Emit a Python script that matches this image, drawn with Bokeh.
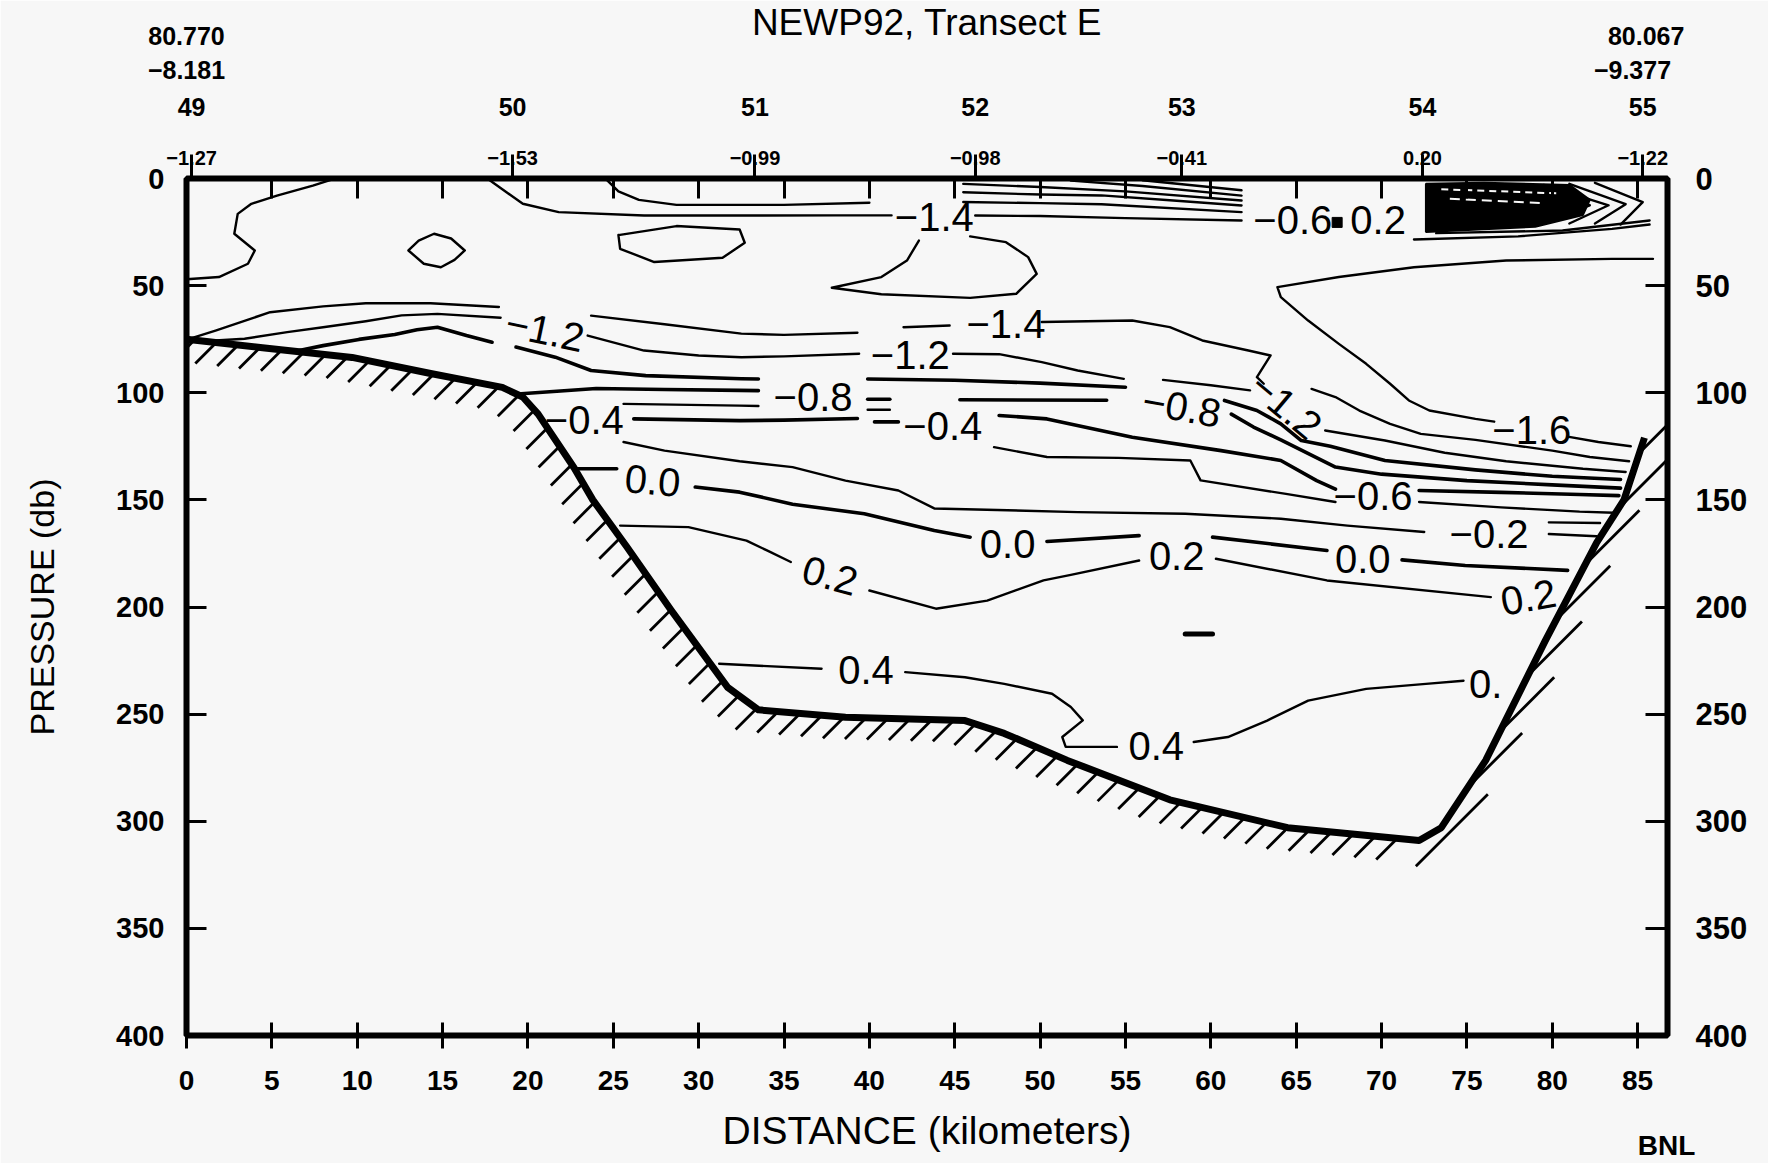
import numpy as np
from bokeh.plotting import figure
from bokeh.models import Range1d, LinearAxis, FixedTicker, ColumnDataSource
from bokeh.core.properties import value
from bokeh.embed import file_html
from bokeh.resources import INLINE

# ---------------- data ----------------
x_ticks = list(range(0, 90, 5))
y_ticks = list(range(0, 450, 50))

station_ids = ["49", "50", "51", "52", "53", "54", "55"]
station_km = [0.3, 19.1, 33.3, 46.2, 58.3, 72.4, 85.3]
station_vals = ["\u22121.27", "\u22121.53", "\u22120.99", "\u22120.98", "\u22120.41", "0.20", "\u22121.22"]

lat_km = [0.0, 85.5]
lat_text = ["80.770", "80.067"]
lon_km = [0.0, 84.7]
lon_text = ["\u22128.181", "\u22129.377"]
credit_km = [86.7]
credit_text = ["BNL"]

# bottom profile (km, db)
bathy_km = [0, 4.45, 9.7, 14.3, 18.5, 19.7, 20.6, 22.7, 23.8, 25.8, 28.4, 31.7, 33.5, 38.6,
            45.6, 47.9, 51.6, 57.6, 64.5, 72.2, 73.5, 76.1, 79.6, 82.6, 84.2, 85.4]
bathy_db = [75, 79, 83.5, 91, 97.5, 102, 110, 135, 150, 172, 201.6, 237.5, 248, 251.5,
            253, 259, 271.6, 290, 303, 309, 303, 271.6, 215.6, 170, 150, 121]

# contour segments, (km, db) pairs
c_top_left = [[(0, 47), (1.9, 46), (3.6, 39.8), (4.0, 33.6), (2.8, 25.8), (3.0, 16.5), (3.8, 11.8),
               (5.3, 8), (7.4, 3.3), (8.5, 0.5)]]
c_loop_small = [[(13.0, 33.6), (13.6, 29.0), (14.5, 25.8), (15.5, 28.0), (16.3, 33.6), (15.7, 38.0),
                 (14.9, 41.4), (13.9, 39.8), (13.0, 33.6)]]
c_top_m14 = [[(17.7, 0.5), (19.7, 11.8), (21.8, 15.7), (26.8, 17.3), (32.5, 17.3), (38, 17.2), (41.3, 17.2)],
             [(46.2, 17.3), (50, 17.5), (55, 18.5), (61.8, 19.6)]]
c_box = [[(24.6, 0.5), (25.3, 6), (26.5, 10), (28.7, 12.3), (35, 12.3), (40, 11.3)]]
c_loop_mid = [[(25.3, 26.4), (28.7, 22.2), (32.4, 23.8), (32.7, 30), (31.4, 37), (27.4, 39), (25.4, 32.8),
               (25.3, 26.4)]]
c_tongue = [[(42.9, 29), (42.2, 38.3), (40.7, 46), (37.8, 51), (40.7, 54), (45.9, 55.7), (48.6, 53.8),
             (49.8, 44.5), (49.3, 36.7), (48, 29.7), (45.9, 27)]]
c_bundle = [[(45.5, 2.5), (50, 4), (55, 6), (61.8, 10.3)],
            [(45.5, 6.4), (50, 7.5), (53.6, 7.9), (57.8, 10.3), (61.8, 12.6)],
            [(45.5, 11), (50, 11.5), (53.6, 12), (61.8, 15.7)],
            [(51.8, 1), (56, 3.5), (61.8, 8)],
            [(56, 0.8), (61.8, 5.5)]]
c_m16 = [[(85.9, 37.5), (83.5, 37.5), (77.3, 38.3), (71.9, 41.4), (67.5, 46), (63.9, 50.7), (64.1, 55.4),
          (65.7, 66.3), (67.5, 77.2), (69.1, 86.5), (70.5, 95.8), (71.6, 103.6), (72.8, 108.3), (75.5, 112.2),
          (76.6, 113.5)],
         [(80.9, 120.5), (82.7, 123), (84.6, 125)]]
c_m14 = [[(0.3, 74.5), (1.7, 71), (4.9, 62.4), (8, 59.7), (10.5, 58.2), (14.3, 58.2), (18.3, 60)],
         [(23.7, 64), (28, 68), (32.5, 72.4), (35, 73), (39.3, 72)],
         [(42, 69.4), (44.7, 68.6)],
         [(50.1, 67), (55.4, 66.3), (57.6, 69.4), (59.5, 75.6), (62.2, 80.3), (63.5, 82.6), (62.7, 92.7),
          (63.1, 95.8)],
         [(65.9, 98.2), (67.3, 102), (68.7, 108.3), (70.5, 114.5), (72.3, 119.2), (75.5, 122), (80, 127),
          (82.2, 130), (84.5, 132)]]
c_m12 = [[(1.7, 75.6), (3.4, 74.8), (5.9, 71.7), (8, 69.4), (10.5, 66.6), (12.6, 63.9), (14.7, 63.2), (18.4, 65)],
         [(23.5, 73.3), (26.8, 80.3), (30, 82.6), (32.5, 83.4), (35, 83), (39.4, 81.8)],
         [(44.9, 81.8), (47.6, 82), (50.1, 85.7), (52.2, 89.6), (54.9, 93.5)],
         [(57.2, 94), (60, 96.5), (62.3, 98.9)],
         [(66.7, 117.6), (70.2, 122.3), (73.7, 128), (77.3, 132), (81.8, 135.5), (84.3, 137)]]
c_m10 = [[(6.6, 80.3), (8, 78), (10.1, 75.1), (12.2, 72.8), (13.5, 70.6), (14.7, 69.4), (16.4, 73.3), (17.9, 76.4)],
         [(19.3, 78.7), (21.6, 83.4), (23.7, 89.6), (26.9, 92), (32.5, 93.5), (33.5, 93.6)],
         [(39.9, 93.6), (45, 94.2), (50, 95.5), (55, 97.4)],
         [(60.8, 103.6), (62.7, 108.3), (64.1, 114.5), (65.3, 122.3), (67, 125), (70.2, 131.6), (75.5, 136),
          (80, 139), (84, 140.5)]]
c_m08 = [[(19.6, 100.5), (24, 98), (28, 98.5), (32.4, 98.9), (33.5, 99)],
         [(39.9, 103), (41.2, 103)],
         [(45.3, 103.3), (53.9, 103.5)],
         [(61.2, 110), (62.5, 116), (64.1, 122), (67.3, 134.7), (70, 138), (75, 141), (80, 143), (84, 144.5)]]
c_m06 = [[(25.6, 105.2), (32.4, 106), (33.5, 106.2)],
         [(39.9, 107.9), (41.2, 107.9)]]
c_m04 = [[(26.2, 112.2), (32.4, 113), (35, 112.8), (39.3, 112)],
         [(40.3, 113.6), (41.7, 113.6)],
         [(47.6, 110.6), (50.4, 112.2), (55.4, 120.8), (60.6, 127), (64.1, 131.6), (66.2, 141), (67.3, 145)],
         [(72.2, 145.6), (77, 146.5), (81.6, 147.5), (83.9, 148)]]
c_m02 = [[(47.3, 125.4), (50.4, 130), (54.6, 130.4), (58.8, 131.6), (59.4, 140.9), (64.4, 147.2), (67.3, 151)],
         [(72.2, 151), (77, 153.5), (81.6, 155.5), (83.6, 156)]]
c_m02b = [[(25.6, 123), (28, 127), (32.4, 132), (35.5, 134.7), (38.6, 141), (41.7, 145.6), (43.8, 154),
           (52.2, 155.7), (58.5, 156.5), (64.1, 158.8), (68, 162), (72.5, 165)],
          [(79.8, 160.5), (82.8, 160.8)],
          [(79.8, 165.9), (82.6, 167)]]
c_p00 = [[(22.9, 135.5), (25.2, 135.5)],
         [(29.8, 144), (32.4, 146.4), (35.5, 152), (39.7, 156.5), (43.8, 164.3), (45.9, 167.4)],
         [(50.4, 169.4), (55.8, 166.7)],
         [(60.1, 167.4), (66.8, 173.6)],
         [(71.2, 178), (74.9, 180.6), (80.9, 182.9)]]
c_p02 = [[(25.4, 162), (29.4, 162.7), (32.8, 169), (34.0, 173.6), (35.4, 179)],
         [(40.0, 192.3), (43.9, 200.8), (46.9, 197), (50.2, 187.6), (51.8, 185), (55.8, 178.3)],
         [(60.3, 177.5), (66.8, 187.6), (76.4, 195.4)]]
c_p04 = [[(31.2, 226.5), (37.2, 228.8)],
         [(42.1, 230.4), (45.6, 232.8), (47.9, 235.9), (50.7, 240.5), (51.8, 246.7), (52.5, 252.9), (51.3, 260.7),
          (51.5, 265.3), (54.5, 265.3)],
         [(59.0, 263), (61.0, 260.7), (63.3, 253), (65.7, 243.7), (69.1, 238.2), (72.6, 235.9), (74.8, 234.4)]]
c_blob = [[(58.5, 212.6), (60.1, 212.6)]]

# dense near-surface patch at the east end
dense_km = [72.6, 76.0, 81.0, 82.2, 81.8, 79.0, 72.6]
dense_db = [2.5, 2.0, 3.0, 10.0, 17.0, 22.5, 25.0]
c_chevrons = [[(78.0, 3.5), (82.2, 12.5), (79.5, 20.5)],
              [(79.5, 3.0), (83.3, 12.5), (81.0, 21.0)],
              [(81.0, 2.5), (84.3, 12.0), (82.5, 21.0)],
              [(82.5, 2.0), (85.3, 11.0), (84.0, 21.5)]]
c_dense_edge = [[(71.9, 28.5), (78.0, 27.0), (83.5, 23.5), (85.7, 21.5)],
                [(73.2, 25.5), (80.6, 24.3), (85.7, 19.6)]]
square_km, square_db = [67.4], [20.5]

# contour labels
lab_text = ["\u22121.4", "\u22121.2", "\u22121.4", "\u22121.2", "\u22120.8", "\u22120.4", "\u22120.4", "\u22120.8",
            "\u22121.2", "\u22121.6", "\u22120.6", "\u22120.2", "0.0", "0.0", "0.2", "0.0", "0.2", "0.2",
            "0.4", "0.4", "0.", "\u22120.6", "0.2"]
lab_km = [43.8, 21.0, 48.0, 42.4, 36.7, 23.3, 44.3, 58.3, 64.4, 78.8, 69.5, 76.3, 27.3, 48.1, 58.0, 68.9,
          37.7, 78.6, 39.8, 56.8, 76.1, 64.8, 69.8]
lab_db = [18, 70.9, 67.8, 82.6, 102, 112.9, 115.3, 106.7, 106, 117.6, 148, 165.9, 141, 170.5, 176, 177.5,
          185.3, 195.4, 229.6, 264.7, 236, 19.6, 19.6]
lab_angle = [0, -12, 0, 0, 0, 0, 0, -10, -40, 0, 0, 0, -5, 0, 0, 0, -15, 10, 0, 0, 0, 0, 0]

# ---------------- geometry ----------------
W, H = 1768, 1163
ML, MR, MT, MB = 186, 101, 178, 128
XMAX = 86.75
SX = (W - ML - MR) / XMAX
SY = (H - MT - MB) / 400.0
BG = "#f7f7f7"
FONT = "Liberation Sans"

p = figure(width=W, height=H, x_range=Range1d(0, XMAX), y_range=Range1d(400, 0),
           output_backend="svg", toolbar_location=None, x_axis_location=None, y_axis_location=None,
           min_border_left=ML, min_border_right=MR, min_border_top=MT, min_border_bottom=MB,
           background_fill_color=BG, border_fill_color=BG)
p.grid.visible = False
p.outline_line_color = "black"
p.outline_line_width = 6


def style_axis(ax, size, tick_in, tick_out, standoff):
    ax.axis_line_color = None
    ax.major_tick_line_color = "black"
    ax.major_tick_line_width = 3
    ax.major_tick_in = tick_in
    ax.major_tick_out = tick_out
    ax.minor_tick_line_color = None
    ax.minor_tick_in = 0
    ax.minor_tick_out = 0
    ax.major_label_text_font = FONT
    ax.major_label_text_font_size = size
    ax.major_label_text_font_style = "bold"
    ax.major_label_text_color = "black"
    ax.major_label_standoff = standoff


def text_row(ticks, texts, size, standoff, side="above"):
    ax = LinearAxis(ticker=FixedTicker(ticks=ticks),
                    major_label_overrides={k: t for k, t in zip(ticks, texts)})
    style_axis(ax, size, 0, 0, standoff)
    ax.major_tick_line_color = None
    p.add_layout(ax, side)
    return ax


left = LinearAxis(ticker=FixedTicker(ticks=y_ticks), axis_label="PRESSURE (db)")
style_axis(left, "29px", 20, 0, 22)
left.axis_label_text_font = FONT
left.axis_label_text_font_size = "34px"
left.axis_label_text_font_style = "normal"
left.axis_label_text_color = "black"
left.axis_label_standoff = 52
p.add_layout(left, "left")

right = LinearAxis(ticker=FixedTicker(ticks=y_ticks))
style_axis(right, "31px", 22, 0, 28)
p.add_layout(right, "right")

bottom = LinearAxis(ticker=FixedTicker(ticks=x_ticks), axis_label="DISTANCE (kilometers)")
style_axis(bottom, "28px", 13, 13, 22)
bottom.axis_label_text_font = FONT
bottom.axis_label_text_font_size = "39px"
bottom.axis_label_text_font_style = "normal"
bottom.axis_label_text_color = "black"
bottom.axis_label_standoff = 16
p.add_layout(bottom, "below")

# credit mark under the lower right corner
bnl = text_row(credit_km, credit_text, "28px", -25, side="below")
bnl.major_label_text_align = "left"

# top: station ticks with surface values, 5-km minor ticks inside
top = LinearAxis(ticker=FixedTicker(ticks=station_km, minor_ticks=x_ticks[1:]),
                 major_label_overrides={k: v for k, v in zip(station_km, station_vals)})
style_axis(top, "20px", 0, 24, -10)
top.minor_tick_line_color = "black"
top.minor_tick_line_width = 3
top.minor_tick_in = 20
top.minor_tick_out = 0
p.add_layout(top, "above")

# further rows above: station numbers, end-point longitudes, end-point latitudes
text_row(station_km, station_ids, "25px", 32)
text_row(lon_km, lon_text, "25px", 16)
text_row(lat_km, lat_text, "25px", 13)

p.title.text = "NEWP92, Transect E"
p.title.align = "center"
p.title.offset = 5
p.title.standoff = -38
p.title.text_font = FONT
p.title.text_font_size = "37px"
p.title.text_font_style = "normal"
p.title.text_color = "black"


# ---------------- contours ----------------
def add_lines(groups, width):
    xs, ys = [], []
    for g in groups:
        for seg in g:
            xs.append([pt[0] for pt in seg])
            ys.append([pt[1] for pt in seg])
    p.multi_line(xs, ys, line_color="black", line_width=width, line_join="round", line_cap="round")


add_lines([c_top_left, c_loop_small, c_top_m14, c_box, c_loop_mid, c_tongue, c_bundle, c_m16, c_m14,
           c_m12, c_m06, c_m02, c_m02b, c_p02, c_p04, c_chevrons, c_dense_edge], 2.4)
add_lines([c_m10, c_m08, c_m04, c_p00], 3.6)
add_lines([c_blob], 5)

p.patch(dense_km, dense_db, fill_color="black", line_color="black", line_width=2)
p.line([73.5, 80.5], [5.0, 7.0], line_color=BG, line_width=2, line_dash="7 5")
p.line([74.0, 79.5], [9.5, 11.5], line_color=BG, line_width=2, line_dash="10 6")
p.scatter(square_km, square_db, marker="square", size=10, color="black")

# ---------------- bottom profile + hatching ----------------
bk = np.array(bathy_km, dtype=float)
bd = np.array(bathy_db, dtype=float)
corner = int(np.argmax(bd))

px = bk[:corner + 1] * SX
py = bd[:corner + 1] * SY
s = np.concatenate([[0.0], np.cumsum(np.hypot(np.diff(px), np.diff(py)))])
ss = np.arange(8.0, s[-1] - 4, 22.0)
hx = np.interp(ss, s, px)
hy = np.interp(ss, s, py)
hatch_xs = [[x / SX, (x - 21) / SX] for x in hx]
hatch_ys = [[y / SY, (y + 21) / SY] for y in hy]

rk = bk[corner:]
rd = bd[corner:]


def slope_km(d):
    if d >= rd[1]:
        k = (rk[2] - rk[1]) / (rd[2] - rd[1])
        return rk[1] + (d - rd[1]) * k
    return float(np.interp(d, rd[::-1], rk[::-1]))


starts = [rd[0] + 12] + [rd[0] - 25 - 26 * i for i in range(7)]
for i, d in enumerate(starts):
    k0 = slope_km(d)
    L = 72 if i == 0 else 54
    hatch_xs.append([k0, k0 + L / SX])
    hatch_ys.append([d, d - L / SY])

p.multi_line(hatch_xs, hatch_ys, line_color="black", line_width=2.8)
p.line(bathy_km, bathy_db, line_color="black", line_width=7, line_join="round")

# ---------------- contour labels ----------------
src = ColumnDataSource(dict(x=lab_km, y=lab_db, t=lab_text, a=[np.deg2rad(v) for v in lab_angle]))
p.text(x="x", y="y", text="t", angle="a", source=src, text_font=value(FONT), text_font_size="40px",
       text_align="center", text_baseline="middle", text_color="black")

open("out.html", "w").write(file_html(p, INLINE))
